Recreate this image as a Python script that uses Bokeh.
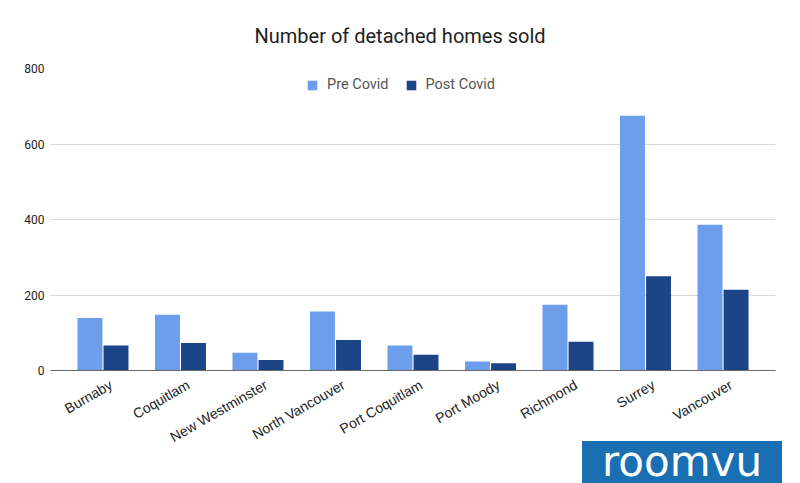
import math
from bokeh.plotting import figure
from bokeh.models import (ColumnDataSource, Range1d, Legend, LegendItem,
                          FixedTicker, LinearAxis, Div)
from bokeh.layouts import column
from bokeh.transform import dodge
from bokeh.embed import file_html
from bokeh.resources import INLINE

cities = ["Burnaby", "Coquitlam", "New Westminster", "North Vancouver", "Port Coquitlam",
          "Port Moody", "Richmond", "Surrey", "Vancouver"]
pre_covid = [139, 148, 47, 156, 66, 24, 174, 675, 386]
post_covid = [66, 73, 28, 81, 42, 19, 76, 250, 214]
y_ticks = [0, 200, 400, 600, 800]
title_text = "Number of detached homes sold"
series_names = ["Pre Covid", "Post Covid"]
logo_text = "roomvu"

PRE_COLOR = "#6d9eeb"
POST_COLOR = "#1c4587"
FONT = "Roboto"

n = len(cities)
idx = list(range(n))
half = 0.677  # half a category plus outer padding
src = ColumnDataSource(dict(idx=idx, city=cities, pre=pre_covid, post=post_covid))

p = figure(width=800, height=456, output_backend="svg", toolbar_location=None,
           x_range=Range1d(-half, n - 1 + half),
           y_range=Range1d(0, 800), x_axis_location=None,
           min_border_left=50, min_border_right=25, min_border_top=68, min_border_bottom=86)
p.outline_line_color = None
p.background_fill_color = "white"
p.border_fill_color = "white"

r1 = p.vbar(x=dodge("idx", -0.168), top="pre", width=0.322, source=src,
            fill_color=PRE_COLOR, line_color=None)
r2 = p.vbar(x=dodge("idx", 0.168), top="post", width=0.322, source=src,
            fill_color=POST_COLOR, line_color=None)

# grid / y axis
p.xgrid.grid_line_color = None
p.ygrid.grid_line_color = "#d9d9d9"
p.ygrid.grid_line_width = 1
p.yaxis.ticker = FixedTicker(ticks=y_ticks)
p.yaxis.axis_line_color = None
p.yaxis.major_tick_line_color = None
p.yaxis.minor_tick_line_color = None
p.yaxis.major_tick_out = 0
p.yaxis.minor_tick_out = 0
p.yaxis.major_label_text_font = FONT
p.yaxis.major_label_text_font_size = "12px"
p.yaxis.major_label_text_color = "#222222"
p.yaxis.major_label_standoff = 6

# x axis: labels sit slightly right of the category centre (as in the source chart)
shift = 8 / 77.5
p.extra_x_ranges = {"lab": Range1d(start=-half - shift, end=n - 1 + half - shift)}
xaxis = LinearAxis(x_range_name="lab",
                   ticker=FixedTicker(ticks=idx),
                   major_label_overrides={i: c for i, c in zip(idx, cities)})
xaxis.axis_line_color = "#666666"
xaxis.axis_line_width = 1
xaxis.major_tick_line_color = None
xaxis.minor_tick_line_color = None
xaxis.major_tick_out = 0
xaxis.minor_tick_out = 0
xaxis.major_label_text_font = "Liberation Sans"
xaxis.major_label_text_font_size = "14px"
xaxis.major_label_text_color = "#222222"
xaxis.major_label_orientation = math.pi / 6
xaxis.major_label_standoff = 13
p.add_layout(xaxis, "below")

# title
p.title.text = title_text
p.title.text_font = FONT
p.title.text_font_size = "20px"
p.title.text_font_style = "normal"
p.title.text_color = "#222222"
p.title.align = "left"
p.title.offset = 204
p.title.standoff = 42

# legend
legend = Legend(items=[LegendItem(label=series_names[0], renderers=[r1]),
                       LegendItem(label=series_names[1], renderers=[r2])],
                orientation="horizontal", location=(256, 277),
                glyph_width=12, glyph_height=12, label_standoff=9, spacing=16,
                padding=0, margin=0, border_line_color=None, background_fill_alpha=0,
                label_text_font=FONT, label_text_font_size="14.5px", label_text_color="#555555")
p.add_layout(legend, "center")

# logo badge (pulled up so that it starts at y = 441, as in the source)
logo = Div(text=logo_text, width=200, height=42, margin=(-15, 0, 0, 582),
           styles={"background-color": "#1a6fb3", "color": "white",
                   "font-family": "DejaVu Sans", "font-size": "42px",
                   "line-height": "30px", "text-align": "center", "overflow": "hidden",
                   "padding-top": "6px", "box-sizing": "border-box"})

layout = column(p, logo, spacing=0)

open("out.html", "w").write(file_html(layout, INLINE))
